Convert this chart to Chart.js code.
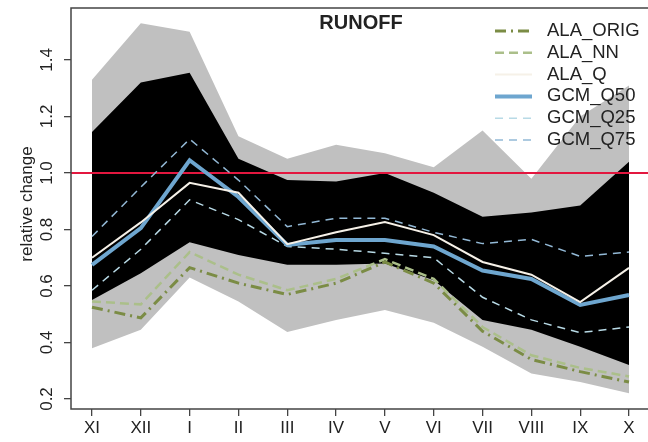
<!DOCTYPE html>
<html>
<head>
<meta charset="utf-8">
<style>
  html, body { margin: 0; padding: 0; background: #fff; }
  #wrap { width: 648px; height: 442px; }
</style>
</head>
<body>
<div id="wrap"><canvas id="runoffChart" width="648" height="442"></canvas></div>

<script src="https://cdn.jsdelivr.net/npm/chart.js"></script>
<script>
  // months from November to October
  const months = ["XI", "XII", "I", "II", "III", "IV", "V", "VI", "VII", "VIII", "IX", "X"];
  const yTicks = [0.2, 0.4, 0.6, 0.8, 1.0, 1.2, 1.4];
  const refValue = 1.0;

  // GCM envelopes (grey = full range, black = inner range)
  const greyHi  = [1.33, 1.53, 1.50, 1.13, 1.05, 1.10, 1.07, 1.02, 1.15, 0.98, 1.20, 1.31];
  const greyLo  = [0.38, 0.445, 0.63, 0.545, 0.437, 0.48, 0.515, 0.47, 0.385, 0.29, 0.26, 0.22];
  const blackHi = [1.145, 1.32, 1.355, 1.05, 0.975, 0.97, 1.0, 0.93, 0.845, 0.86, 0.885, 1.04];
  const blackLo = [0.55, 0.645, 0.755, 0.71, 0.675, 0.675, 0.68, 0.62, 0.48, 0.445, 0.385, 0.32];

  // series
  const alaOrig = [0.525, 0.487, 0.665, 0.61, 0.57, 0.61, 0.685, 0.61, 0.44, 0.34, 0.297, 0.26];
  const alaNN   = [0.545, 0.535, 0.72, 0.64, 0.585, 0.625, 0.695, 0.625, 0.455, 0.355, 0.31, 0.28];
  const alaQ    = [0.70, 0.825, 0.965, 0.93, 0.748, 0.79, 0.826, 0.78, 0.685, 0.64, 0.543, 0.664];
  const gcmQ50  = [0.675, 0.805, 1.045, 0.915, 0.745, 0.763, 0.763, 0.74, 0.655, 0.625, 0.533, 0.568];
  const gcmQ25  = [0.585, 0.73, 0.905, 0.835, 0.74, 0.73, 0.716, 0.70, 0.56, 0.48, 0.435, 0.455];
  const gcmQ75  = [0.775, 0.95, 1.12, 0.975, 0.81, 0.84, 0.84, 0.79, 0.75, 0.765, 0.705, 0.72];

  const FONT = '"Liberation Sans", Arial, Helvetica, sans-serif';
  const TEXT = "#222";

  function pts(arr) {
    return arr.map((v, i) => ({ x: i + 1, y: v }));
  }

  function lineDs(label, arr, color, width, dash, order) {
    return {
      label: label,
      data: pts(arr),
      borderColor: color,
      borderWidth: width,
      borderDash: dash,
      pointRadius: 0,
      fill: false,
      tension: 0,
      order: order,
      inLegend: true
    };
  }

  function bandDs(id, arr, color, order) {
    return {
      label: id,
      data: pts(arr),
      borderWidth: 0,
      borderColor: "rgba(0,0,0,0)",
      backgroundColor: color,
      pointRadius: 0,
      fill: false,
      tension: 0,
      order: order
    };
  }

  const datasets = [
    lineDs("ALA_ORIG", alaOrig, "#7b8c45", 3, [11, 5, 2, 5], 1),
    lineDs("ALA_NN", alaNN, "#abbf8a", 2.5, [9, 5], 1),
    lineDs("ALA_Q", alaQ, "#f6f1e8", 2, [], 0),
    lineDs("GCM_Q50", gcmQ50, "#6ea6cf", 4, [], 2),
    lineDs("GCM_Q25", gcmQ25, "#b8dae6", 1.5, [8, 6], 3),
    lineDs("GCM_Q75", gcmQ75, "#93b9d6", 1.5, [8, 6], 3),
    bandDs("blackHi", blackHi, "#000", 4),
    bandDs("blackLo", blackLo, "#000", 4),
    bandDs("greyHi", greyHi, "#c0c0c0", 5),
    bandDs("greyLo", greyLo, "#c0c0c0", 5)
  ];
  const idx = name => datasets.findIndex(d => d.label === name);
  datasets[idx("blackHi")].fill = idx("blackLo");
  datasets[idx("greyHi")].fill = idx("greyLo");

  // red reference line on top of the bands, below the series
  const refLinePlugin = {
    id: "refLine",
    afterDatasetDraw(chart, args) {
      if (chart.data.datasets[args.index].label !== "blackHi") return;
      const ctx = chart.ctx;
      const area = chart.chartArea;
      const y = chart.scales.y.getPixelForValue(refValue);
      ctx.save();
      ctx.strokeStyle = "#e3173f";
      ctx.lineWidth = 2;
      ctx.beginPath();
      ctx.moveTo(area.left, y);
      ctx.lineTo(area.right, y);
      ctx.stroke();
      ctx.restore();
    }
  };

  // box, y labels, axis title, main title and legend
  const decorPlugin = {
    id: "decor",
    afterDraw(chart) {
      const ctx = chart.ctx;
      const area = chart.chartArea;
      const ys = chart.scales.y;

      ctx.save();
      ctx.strokeStyle = "#444";
      ctx.lineWidth = 1.5;
      ctx.beginPath();
      ctx.moveTo(area.right + 5, area.top);
      ctx.lineTo(area.left, area.top);
      ctx.lineTo(area.left, area.bottom);
      ctx.lineTo(area.right + 5, area.bottom);
      ctx.stroke();

      ctx.fillStyle = TEXT;
      ctx.font = "17px " + FONT;
      ctx.textAlign = "center";
      ctx.textBaseline = "middle";
      yTicks.forEach(t => {
        ctx.save();
        ctx.translate(47, ys.getPixelForValue(t));
        ctx.rotate(-Math.PI / 2);
        ctx.fillText(t.toFixed(1), 0, 0);
        ctx.restore();
      });

      ctx.save();
      ctx.translate(27, 204);
      ctx.rotate(-Math.PI / 2);
      ctx.fillText("relative change", 0, 0);
      ctx.restore();

      ctx.font = "bold 20px " + FONT;
      ctx.fillText("RUNOFF", 361, 23);

      // legend
      ctx.font = "18.5px " + FONT;
      ctx.textAlign = "left";
      let rowY = 31;
      chart.data.datasets.filter(d => d.inLegend).forEach(d => {
        ctx.save();
        ctx.strokeStyle = d.borderColor;
        ctx.lineWidth = d.borderWidth;
        ctx.setLineDash(d.borderDash);
        ctx.beginPath();
        ctx.moveTo(495, rowY);
        ctx.lineTo(532, rowY);
        ctx.stroke();
        ctx.restore();
        ctx.fillText(d.label, 547, rowY);
        rowY += 21.8;
      });
      ctx.restore();
    }
  };

  new Chart(document.getElementById("runoffChart"), {
    type: "line",
    data: { datasets: datasets },
    options: {
      responsive: false,
      animation: false,
      devicePixelRatio: 1,
      layout: { padding: { top: 8, right: 0, left: 0, bottom: 0 } },
      plugins: {
        legend: { display: false },
        tooltip: { enabled: false },
        title: { display: false }
      },
      scales: {
        x: {
          type: "linear",
          min: 0.57,
          max: 12.389,
          afterBuildTicks: s => { s.ticks = months.map((m, i) => ({ value: i + 1 })); },
          afterFit: s => { s.height = 33; },
          ticks: {
            autoSkip: false,
            maxRotation: 0,
            padding: 2,
            color: TEXT,
            font: { size: 17, family: FONT },
            callback: v => months[v - 1]
          },
          grid: { drawOnChartArea: false, drawTicks: true, tickLength: 7, color: "#444", lineWidth: 1.3 },
          border: { display: false }
        },
        y: {
          type: "linear",
          min: 0.1646,
          max: 1.584,
          afterBuildTicks: s => { s.ticks = yTicks.map(v => ({ value: v })); },
          afterFit: s => { s.width = 71; },
          ticks: { display: false },
          grid: { drawOnChartArea: false, drawTicks: true, tickLength: 7, color: "#444", lineWidth: 1.3 },
          border: { display: false }
        }
      }
    },
    plugins: [refLinePlugin, decorPlugin]
  });
</script>
</body>
</html>
